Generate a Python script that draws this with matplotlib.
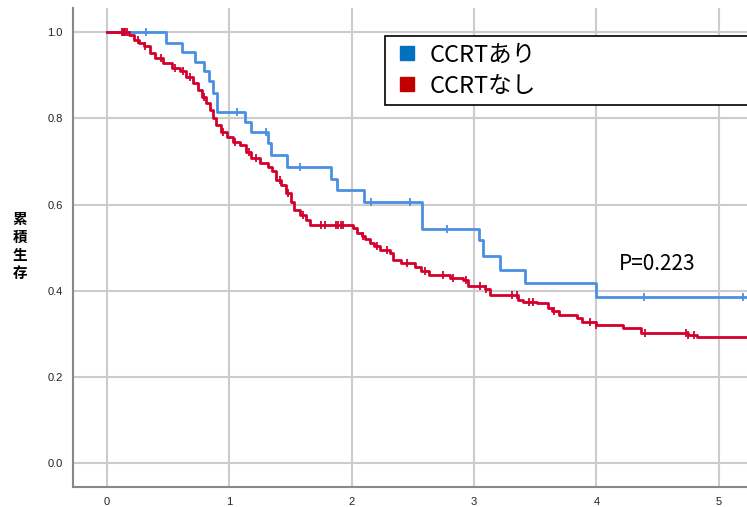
import numpy as np
import matplotlib.pyplot as plt
from matplotlib.lines import Line2D

plt.rcParams['font.family'] = ['Liberation Sans', 'Noto Sans CJK JP', 'DejaVu Sans']

# Kaplan-Meier curves (step "post")
blue_t = [0, 0.48, 0.61, 0.72, 0.79, 0.83, 0.87, 0.90, 1.13, 1.18, 1.32, 1.34, 1.47,
          1.83, 1.88, 2.10, 2.575, 3.04, 3.07, 3.21, 3.42, 4.00]
blue_s = [1.0, 0.976, 0.955, 0.932, 0.909, 0.886, 0.858, 0.816, 0.792, 0.768, 0.742,
          0.715, 0.688, 0.660, 0.634, 0.606, 0.544, 0.518, 0.481, 0.448, 0.418, 0.385]
blue_cens = [0.32, 1.06, 1.30, 1.58, 2.16, 2.48, 2.78, 4.39, 5.20]

red_t = [0, 0.18, 0.22, 0.26, 0.30, 0.35, 0.39, 0.46, 0.53, 0.60, 0.65, 0.70, 0.74,
         0.78, 0.81, 0.84, 0.87, 0.89, 0.93, 0.98, 1.03, 1.09, 1.14, 1.18, 1.25, 1.32,
         1.35, 1.38, 1.42, 1.46, 1.50, 1.53, 1.58, 1.63, 1.66, 2.01, 2.04, 2.08, 2.11,
         2.15, 2.18, 2.23, 2.31, 2.34, 2.40, 2.52, 2.57, 2.63, 2.80, 2.91, 2.95, 3.09,
         3.13, 3.36, 3.40, 3.51, 3.60, 3.64, 3.69, 3.84, 3.88, 4.00, 4.22, 4.36, 4.745,
         4.82]
red_s = [1.0, 0.994, 0.982, 0.975, 0.967, 0.951, 0.94, 0.928, 0.916, 0.909, 0.897,
         0.882, 0.865, 0.85, 0.835, 0.82, 0.80, 0.785, 0.769, 0.758, 0.746, 0.738, 0.723,
         0.708, 0.696, 0.688, 0.677, 0.657, 0.645, 0.628, 0.605, 0.588, 0.576, 0.564,
         0.553, 0.545, 0.534, 0.528, 0.52, 0.51, 0.503, 0.495, 0.487, 0.472, 0.465,
         0.456, 0.445, 0.437, 0.429, 0.425, 0.41, 0.405, 0.39, 0.379, 0.375, 0.371,
         0.36, 0.352, 0.344, 0.336, 0.328, 0.321, 0.313, 0.303, 0.298, 0.292]
red_cens = [0.12, 0.13, 0.14, 0.15, 0.16, 0.25, 0.31, 0.44, 0.56, 0.62, 0.68, 0.79,
            0.95, 1.05, 1.16, 1.22, 1.41, 1.48, 1.60, 1.75, 1.78, 1.87, 1.89, 1.91,
            1.93, 2.09, 2.21, 2.29, 2.45, 2.60, 2.75, 2.83, 2.93, 3.05, 3.10, 3.31,
            3.35, 3.45, 3.48, 3.65, 3.95, 4.00, 4.40, 4.73, 4.75, 4.80]

labels = ['CCRTあり', 'CCRTなし']
line_colors = ['#4a90e2', '#d3002c']
box_colors = ['#0070c0', '#c00000']
x_ticks = [0, 1, 2, 3, 4, 5]
y_ticks = [0.0, 0.2, 0.4, 0.6, 0.8, 1.0]
x_end = 5.23


def surv_at(t, times, surv):
    idx = np.searchsorted(times, t, side='right') - 1
    return np.asarray(surv)[idx]


fig = plt.figure(figsize=(7.47, 5.07), dpi=100)
ax = fig.add_axes([0.0973, 0.039, 0.9027, 0.945])

for times, surv, cens, col in [(red_t, red_s, red_cens, line_colors[1]),
                                (blue_t, blue_s, blue_cens, line_colors[0])]:
    tt = list(times) + [x_end + 0.1]
    ss = list(surv) + [surv[-1]]
    ax.step(tt, ss, where='post', color=col, lw=2, zorder=3)
    ax.plot(cens, surv_at(cens, times, surv), ls='none', marker='|',
            ms=6, mew=1.3, color=col, zorder=3)

# red drawn over blue at the start
ax.step([0, 0.18], [1.0, 1.0], where='post', color=line_colors[1], lw=2, zorder=4)

ax.set_xlim(-0.28, x_end)
ax.set_ylim(-0.056, 1.056)
ax.set_xticks(x_ticks)
ax.set_yticks(y_ticks)
ax.set_xticklabels([str(v) for v in x_ticks])
ax.set_yticklabels(['%.1f' % v for v in y_ticks])
ax.tick_params(length=0, labelsize=8, colors='#222222', pad=7)
ax.grid(True, color='#cccccc', lw=1.5)
ax.set_axisbelow(True)
for s in ['top', 'right']:
    ax.spines[s].set_visible(False)
for s in ['left', 'bottom']:
    ax.spines[s].set_color('#888888')
    ax.spines[s].set_linewidth(1.5)

fig.text(20 / 747, 1 - 246 / 507, '累\n積\n生\n存', ha='center', va='center',
         fontsize=10.5, fontweight='bold', linespacing=1.15,
         family=['Noto Sans CJK JP'])

ax.text(4.18, 0.448, 'P=0.223', fontsize=15, family=['Noto Sans CJK JP'],
        ha='left', va='baseline')

handles = [Line2D([], [], ls='none', marker='s', ms=10, color=c) for c in box_colors]
leg = fig.legend(handles, labels, loc='upper left',
                 bbox_to_anchor=(385 / 747, 1 - 36 / 507, 0.6, 0.0), mode='expand',
                 prop={'family': ['Noto Sans CJK JP'], 'size': 17},
                 frameon=True, fancybox=False, framealpha=1, edgecolor='black',
                 borderaxespad=0, handletextpad=0.36, labelspacing=0.34,
                 borderpad=0.32, handlelength=1.2)
leg.get_frame().set_linewidth(1.2)

fig.savefig('out.png', dpi=100)
